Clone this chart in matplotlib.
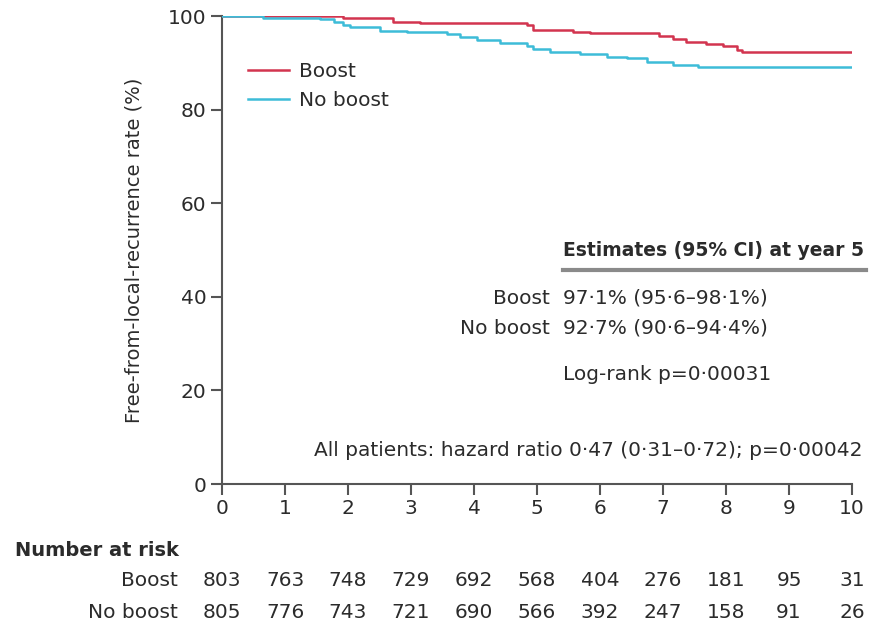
import matplotlib
matplotlib.use("Agg")
import matplotlib.pyplot as plt
import matplotlib.transforms as mtransforms

plt.rcParams["font.family"] = ["DejaVu Sans"]

RED = "#d2344f"
CYAN = "#3dbcd8"
TXT = "#2b2b2b"
AXC = "#555555"
FS = 14.5

# Kaplan-Meier step points (years, % free from local recurrence)
boost_t = [0, 1.92, 2.71, 3.14, 4.84, 4.94, 5.57, 5.84, 6.93, 7.16, 7.37, 7.69, 7.95, 8.17, 8.25, 10]
boost_s = [100, 99.5, 98.8, 98.4, 98.1, 97.1, 96.5, 96.3, 95.7, 95.0, 94.5, 94.0, 93.6, 92.8, 92.4, 92.4]
noboost_t = [0, 0.65, 1.56, 1.77, 1.92, 2.03, 2.51, 2.93, 3.57, 3.78, 4.05, 4.41, 4.84, 4.94,
             5.21, 5.68, 6.11, 6.43, 6.75, 7.16, 7.56, 10]
noboost_s = [100, 99.5, 99.3, 98.8, 98.1, 97.6, 96.9, 96.5, 96.2, 95.5, 94.8, 94.2, 93.5, 93.0,
             92.4, 91.9, 91.3, 91.0, 90.2, 89.5, 89.0, 89.0]

years = list(range(11))
risk_boost = [803, 763, 748, 729, 692, 568, 404, 276, 181, 95, 31]
risk_noboost = [805, 776, 743, 721, 690, 566, 392, 247, 158, 91, 26]

W, H = 876, 625
fig = plt.figure(figsize=(W / 100, H / 100), dpi=100)
ax = fig.add_axes([222 / W, 1 - 484 / H, 630 / W, 468 / H])

ax.step(boost_t, boost_s, where="post", color=RED, lw=1.8, label="Boost")
ax.step(noboost_t, noboost_s, where="post", color=CYAN, lw=1.8, label="No boost")

ax.set_xlim(0, 10)
ax.set_ylim(0, 100)
ax.set_xticks(years)
ax.set_yticks(range(0, 101, 20))
ax.spines["top"].set_visible(False)
ax.spines["right"].set_visible(False)
for s in ("left", "bottom"):
    ax.spines[s].set_color(AXC)
    ax.spines[s].set_linewidth(1.5)
    ax.spines[s].set_zorder(1)
ax.tick_params(length=8, width=1.5, color=AXC, labelsize=FS, labelcolor=TXT, pad=3)
ax.set_ylabel("Free-from-local-recurrence rate (%)", fontsize=14, color=TXT, labelpad=18)

ax.legend(loc="upper left", bbox_to_anchor=(0.013, 0.94), frameon=False, fontsize=FS,
          handlelength=2.0, handletextpad=0.5, labelspacing=0.5, labelcolor=TXT)

# year-5 estimates block
fx = fig.transFigure
def fxy(px, py):
    return px / W, 1 - py / H

ax.text(*fxy(563, 251), "Estimates (95% CI) at year 5", transform=fx, fontsize=13.5,
        fontweight="bold", color=TXT, va="center", ha="left")
ax.plot([563 / W, 866 / W], [1 - 270 / H] * 2, transform=fx, color="#8a8a8a", lw=3,
        clip_on=False)
ax.text(*fxy(550, 298), "Boost", transform=fx, fontsize=FS, color=TXT, va="center", ha="right")
ax.text(*fxy(563, 298), "97·1% (95·6–98·1%)", transform=fx, fontsize=FS, color=TXT, va="center")
ax.text(*fxy(550, 328), "No boost", transform=fx, fontsize=FS, color=TXT, va="center", ha="right")
ax.text(*fxy(563, 328), "92·7% (90·6–94·4%)", transform=fx, fontsize=FS, color=TXT, va="center")
ax.text(*fxy(563, 374), "Log-rank p=0·00031", transform=fx, fontsize=FS, color=TXT, va="center")
ax.text(*fxy(862, 451), "All patients: hazard ratio 0·47 (0·31–0·72); p=0·00042", transform=fx,
        fontsize=FS, color=TXT, va="center", ha="right")

# number-at-risk table
ax.text(*fxy(15, 550), "Number at risk", transform=fx, fontsize=14, fontweight="bold",
        color=TXT, va="center")
trans = mtransforms.blended_transform_factory(ax.transData, fx)
for label, counts, py in (("Boost", risk_boost, 581), ("No boost", risk_noboost, 612)):
    ax.text(*fxy(178, py), label, transform=fx, fontsize=FS, color=TXT, va="center", ha="right")
    for yr, n in zip(years, counts):
        ax.text(yr, 1 - py / H, str(n), transform=trans, fontsize=FS, color=TXT,
                va="center", ha="center", clip_on=False)

fig.savefig("out.png", dpi=100)
